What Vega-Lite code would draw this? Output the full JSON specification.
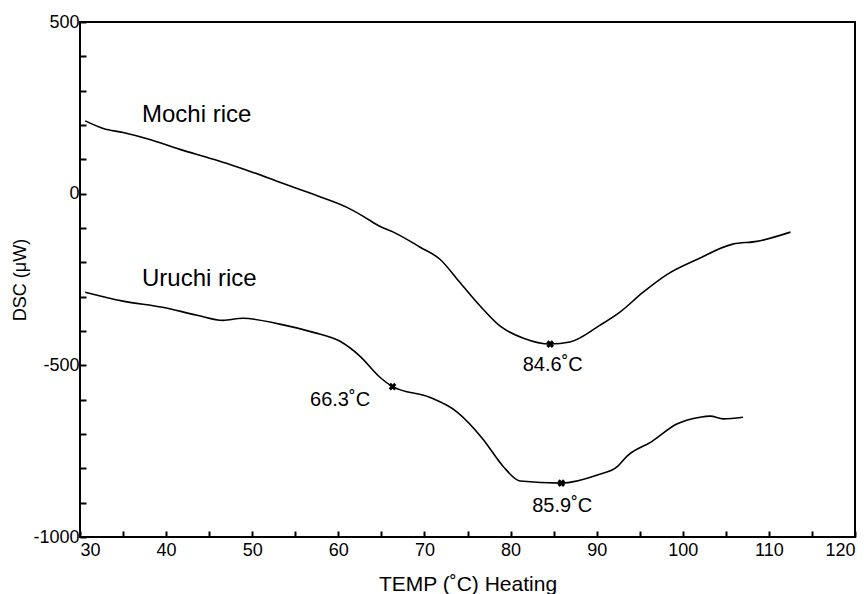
{
  "$schema": "https://vega.github.io/schema/vega-lite/v6.json",
  "width": 775,
  "height": 515,
  "autosize": {"type": "none"},
  "padding": {"left": 80, "top": 22, "right": 9, "bottom": 57},
  "background": "white",
  "config": {
    "view": {"stroke": "black", "strokeWidth": 2},
    "font": "Liberation Sans"
  },
  "datasets": {
    "curves": [
      {"s": "Mochi", "T": 30.6, "v": 212},
      {"s": "Mochi", "T": 32.7, "v": 190},
      {"s": "Mochi", "T": 35.0, "v": 178},
      {"s": "Mochi", "T": 37.8, "v": 160},
      {"s": "Mochi", "T": 41.6, "v": 129},
      {"s": "Mochi", "T": 45.5, "v": 100},
      {"s": "Mochi", "T": 47.4, "v": 85},
      {"s": "Mochi", "T": 50.1, "v": 62},
      {"s": "Mochi", "T": 53.2, "v": 33},
      {"s": "Mochi", "T": 57.1, "v": -2},
      {"s": "Mochi", "T": 61.0, "v": -40},
      {"s": "Mochi", "T": 62.9, "v": -66},
      {"s": "Mochi", "T": 64.8, "v": -95},
      {"s": "Mochi", "T": 66.4, "v": -112},
      {"s": "Mochi", "T": 69.5, "v": -156},
      {"s": "Mochi", "T": 71.8, "v": -191},
      {"s": "Mochi", "T": 74.1, "v": -258},
      {"s": "Mochi", "T": 76.5, "v": -328},
      {"s": "Mochi", "T": 78.8, "v": -386},
      {"s": "Mochi", "T": 81.5, "v": -421},
      {"s": "Mochi", "T": 84.6, "v": -438},
      {"s": "Mochi", "T": 86.9, "v": -432},
      {"s": "Mochi", "T": 90.4, "v": -383},
      {"s": "Mochi", "T": 92.7, "v": -345},
      {"s": "Mochi", "T": 95.4, "v": -287},
      {"s": "Mochi", "T": 98.2, "v": -235},
      {"s": "Mochi", "T": 101.7, "v": -191},
      {"s": "Mochi", "T": 105.8, "v": -147},
      {"s": "Mochi", "T": 108.6, "v": -139},
      {"s": "Mochi", "T": 112.5, "v": -112},
      {"s": "Uruchi", "T": 30.6, "v": -287},
      {"s": "Uruchi", "T": 35.0, "v": -313},
      {"s": "Uruchi", "T": 39.6, "v": -331},
      {"s": "Uruchi", "T": 43.6, "v": -354},
      {"s": "Uruchi", "T": 46.6, "v": -369},
      {"s": "Uruchi", "T": 48.9, "v": -363},
      {"s": "Uruchi", "T": 53.2, "v": -380},
      {"s": "Uruchi", "T": 57.1, "v": -404},
      {"s": "Uruchi", "T": 60.2, "v": -430},
      {"s": "Uruchi", "T": 62.5, "v": -473},
      {"s": "Uruchi", "T": 64.8, "v": -534},
      {"s": "Uruchi", "T": 66.3, "v": -562},
      {"s": "Uruchi", "T": 70.6, "v": -593},
      {"s": "Uruchi", "T": 73.8, "v": -636},
      {"s": "Uruchi", "T": 76.8, "v": -715},
      {"s": "Uruchi", "T": 79.1, "v": -793},
      {"s": "Uruchi", "T": 81.1, "v": -837},
      {"s": "Uruchi", "T": 85.9, "v": -843},
      {"s": "Uruchi", "T": 90.0, "v": -820},
      {"s": "Uruchi", "T": 92.4, "v": -795},
      {"s": "Uruchi", "T": 93.5, "v": -765},
      {"s": "Uruchi", "T": 96.4, "v": -722},
      {"s": "Uruchi", "T": 99.3, "v": -671},
      {"s": "Uruchi", "T": 102.0, "v": -651},
      {"s": "Uruchi", "T": 103.2, "v": -648},
      {"s": "Uruchi", "T": 104.7, "v": -656},
      {"s": "Uruchi", "T": 107.0, "v": -651}
    ],
    "marks": [
      {"T": 84.6, "v": -438},
      {"T": 66.3, "v": -562},
      {"T": 85.9, "v": -843}
    ],
    "peaks": [
      {"T": 84.9, "v": -517, "label": "84.6˚C"},
      {"T": 60.2, "v": -619, "label": "66.3˚C"},
      {"T": 86.0, "v": -927, "label": "85.9˚C"}
    ],
    "names": [
      {"T": 37.2, "v": 210, "label": "Mochi rice"},
      {"T": 37.2, "v": -270, "label": "Uruchi rice"}
    ],
    "topticks": [
      {"T": 35}, {"T": 40}, {"T": 45}, {"T": 50}, {"T": 55}, {"T": 60}, {"T": 65},
      {"T": 70}, {"T": 75}, {"T": 80}, {"T": 85}, {"T": 90}, {"T": 95}, {"T": 100},
      {"T": 105}, {"T": 110}, {"T": 115}
    ]
  },
  "encoding": {
    "x": {
      "field": "T", "type": "quantitative",
      "scale": {"domain": [30, 120], "nice": false, "zero": false},
      "axis": {
        "title": "TEMP (˚C) Heating",
        "titleFont": "Liberation Sans", "titleFontSize": 21, "titleFontWeight": "normal",
        "titleColor": "black", "titlePadding": 14,
        "values": [30,35,40,45,50,55,60,65,70,75,80,85,90,95,100,105,110,115,120],
        "labelExpr": "datum.value % 10 === 0 ? datum.label : ''",
        "labelFont": "Liberation Sans", "labelFontSize": 18, "labelColor": "black",
        "labelPadding": 10, "labelFlush": true, "labelOverlap": false,
        "tickSize": -6, "tickWidth": 2, "tickColor": "black",
        "domain": false, "grid": false
      }
    },
    "y": {
      "field": "v", "type": "quantitative",
      "scale": {"domain": [-1000, 500], "nice": false, "zero": false},
      "axis": {
        "title": "DSC (μW)",
        "titleFont": "Liberation Sans", "titleFontSize": 18, "titleFontWeight": "normal",
        "titleColor": "black", "titlePadding": 3,
        "values": [-1000,-900,-800,-700,-600,-500,-400,-300,-200,-100,0,100,200,300,400,500],
        "labelExpr": "datum.value % 500 === 0 ? '' + datum.value : ''",
        "labelFont": "Liberation Sans", "labelFontSize": 18, "labelColor": "black",
        "labelPadding": 7, "labelFlush": false, "labelOverlap": false,
        "tickSize": -6, "tickWidth": 2, "tickColor": "black",
        "domain": false, "grid": false
      }
    }
  },
  "layer": [
    {
      "data": {"name": "curves"},
      "mark": {"type": "line", "color": "black", "strokeWidth": 1.6, "interpolate": "monotone"},
      "encoding": {"detail": {"field": "s"}}
    },
    {
      "data": {"name": "marks"},
      "mark": {"type": "point", "shape": "cross", "angle": 45, "filled": true, "color": "black", "size": 60, "opacity": 1},
      "encoding": {}
    },
    {
      "data": {"name": "peaks"},
      "mark": {"type": "text", "font": "Liberation Sans", "fontSize": 20, "align": "center", "baseline": "alphabetic", "color": "black"},
      "encoding": {"text": {"field": "label"}}
    },
    {
      "data": {"name": "names"},
      "mark": {"type": "text", "font": "Liberation Sans", "fontSize": 24, "align": "left", "baseline": "alphabetic", "color": "black"},
      "encoding": {"text": {"field": "label"}}
    },
    {
      "data": {"name": "topticks"},
      "mark": {"type": "rule", "color": "black", "strokeWidth": 2},
      "encoding": {
        "y": {
          "datum": 500, "type": "quantitative",
          "scale": {"domain": [-1000, 500], "nice": false, "zero": false},
          "axis": {
            "title": "DSC (μW)",
            "titleFont": "Liberation Sans", "titleFontSize": 18, "titleFontWeight": "normal",
            "titleColor": "black", "titlePadding": 3,
            "values": [-1000,-900,-800,-700,-600,-500,-400,-300,-200,-100,0,100,200,300,400,500],
            "labelExpr": "datum.value % 500 === 0 ? '' + datum.value : ''",
            "labelFont": "Liberation Sans", "labelFontSize": 18, "labelColor": "black",
            "labelPadding": 7, "labelFlush": false, "labelOverlap": false,
            "tickSize": -6, "tickWidth": 2, "tickColor": "black",
            "domain": false, "grid": false
          }
        },
        "y2": {"datum": 483}
      }
    }
  ]
}
